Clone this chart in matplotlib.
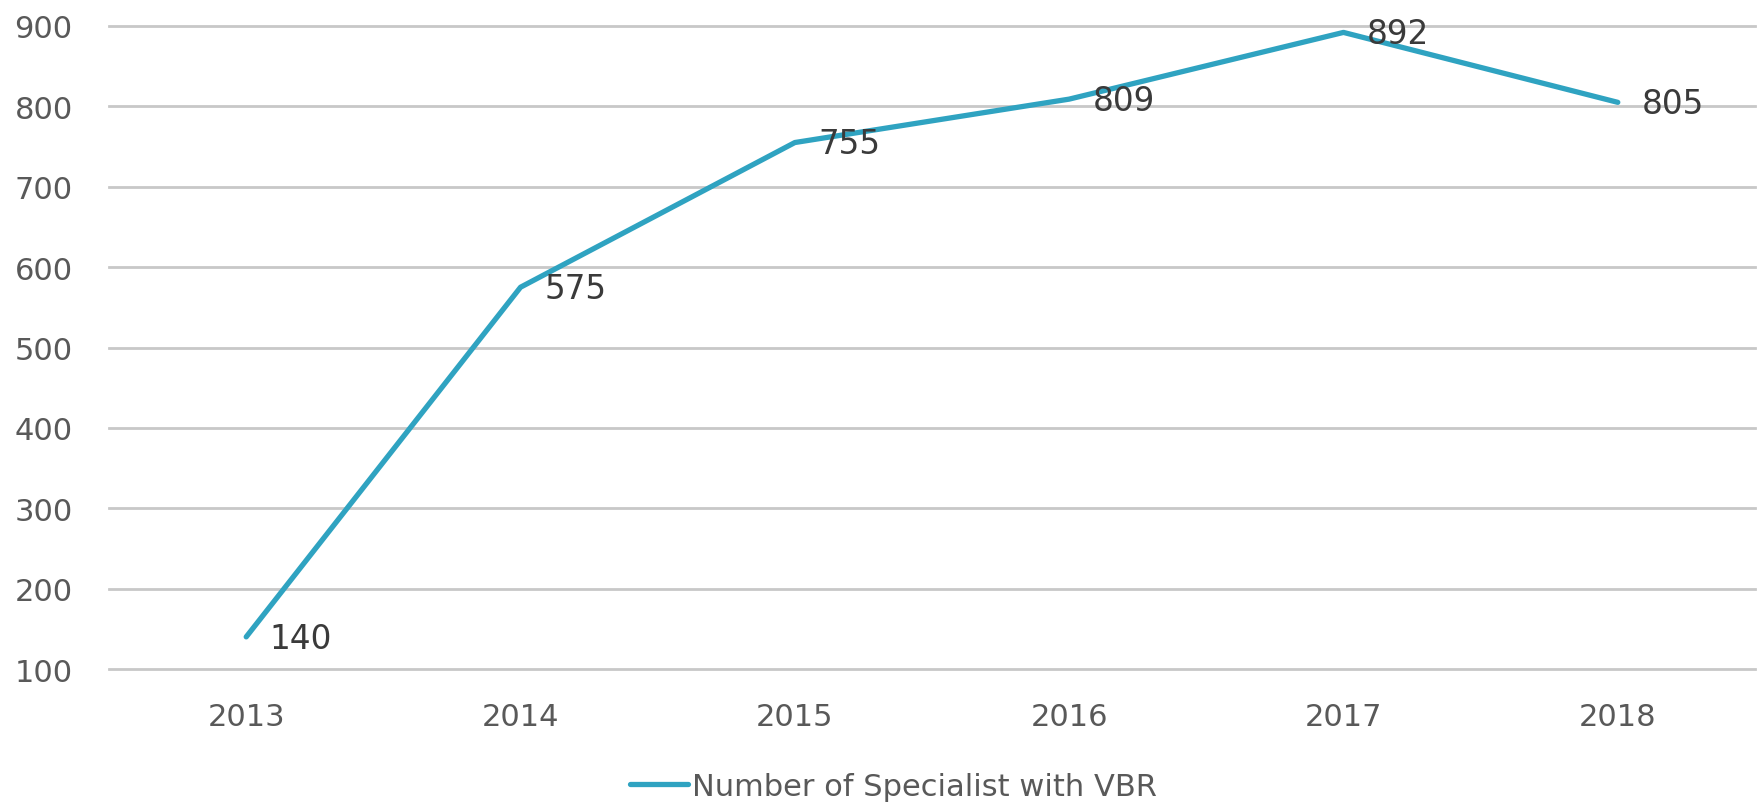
import matplotlib.pyplot as plt

years = ['2013', '2014', '2015', '2016', '2017', '2018']
specialists = [140, 575, 755, 809, 892, 805]

line_color = '#2fa3c1'
tick_color = '#595959'
label_color = '#3a3a3a'

fig = plt.figure(figsize=(17.62, 8.03), dpi=100)
ax = fig.add_axes([0.0619, 0.1656, 0.9341, 0.8008])

x = list(range(len(years)))
ax.plot(x, specialists, color=line_color, linewidth=3.8, solid_capstyle='round',
        solid_joinstyle='round', label='Number of Specialist with VBR')

for xi, v in zip(x, specialists):
    ax.annotate(str(v), (xi, v), xytext=(17, -1), textcoords='offset points',
                ha='left', va='center', fontsize=23.5, color=label_color)

ax.set_xlim(-0.5, len(years) - 0.5)
ax.set_ylim(100, 900)
ax.set_yticks(range(100, 901, 100))
ax.set_xticks(x)
ax.set_xticklabels(years)
ax.tick_params(axis='both', length=0, labelsize=22, labelcolor=tick_color)
ax.tick_params(axis='x', pad=24)
for lbl in ax.get_yticklabels():
    lbl.set_horizontalalignment('left')
    lbl.set_verticalalignment('center_baseline')
ax.yaxis.set_tick_params(pad=68)

ax.grid(axis='y', color='#c8c8c8', linewidth=2)
for gl in ax.get_ygridlines():
    gl.set_clip_on(False)
ax.set_axisbelow(True)
for s in ax.spines.values():
    s.set_visible(False)

leg = fig.legend(loc='lower center', bbox_to_anchor=(0.507, -0.033), frameon=False,
                 fontsize=22, handlelength=1.9, handletextpad=0.15, labelcolor=tick_color)

fig.savefig('out.png', dpi=100)
